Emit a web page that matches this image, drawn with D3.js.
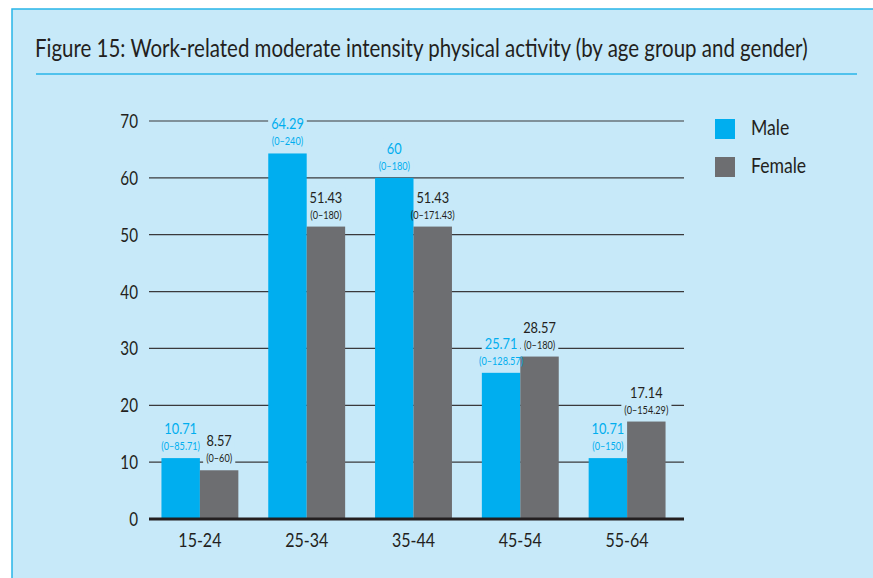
<!DOCTYPE html>
<html>
<head>
<meta charset="utf-8">
<script src="https://cdn.jsdelivr.net/npm/d3@7"></script>
<style>
  body { margin: 0; background: #fff; }
  svg text { font-family: Lato, "Open Sans", sans-serif; fill: #231f20; }
</style>
</head>
<body>
<div id="chart"></div>
<script>
// chart data
var categories = ["15-24", "25-34", "35-44", "45-54", "55-64"];
var maleValues = [10.71, 64.29, 60, 25.71, 10.71];
var femaleValues = [8.57, 51.43, 51.43, 28.57, 17.14];
var maleRanges = ["(0–85.71)", "(0–240)", "(0–180)", "(0–128.57)", "(0–150)"];
var femaleRanges = ["(0–60)", "(0–180)", "(0–171.43)", "(0–180)", "(0–154.29)"];
var yTicks = [0, 10, 20, 30, 40, 50, 60, 70];
var seriesNames = ["Male", "Female"];
var title = "Figure 15: Work-related moderate intensity physical activity (by age group and gender)";

var svgWidth = 873;
var svgHeight = 578;

var bgColor = "#c7e9f9";
var cyan = "#00aeef";
var grey = "#6d6e71";
var squeeze = 0.8;   // the original typeface is narrower than Lato

var svg = d3.select("#chart")
    .append("svg")
    .attr("width", svgWidth)
    .attr("height", svgHeight);

// make Lato look a bit more like the narrow original font:
// move x/y into a transform and squash horizontally around the anchor
function condense(sel, k) {
    sel.each(function() {
        var t = d3.select(this);
        var tx = +t.attr("x") || 0;
        var ty = +t.attr("y") || 0;
        t.attr("x", 0)
            .attr("y", 0)
            .attr("transform", `translate(${tx}, ${ty}) scale(${k}, 1)`);
    });
    return sel;
}

// panel
svg.append("rect")
    .attr("x", 12)
    .attr("y", 9)
    .attr("width", svgWidth)
    .attr("height", svgHeight)
    .attr("fill", bgColor)
    .attr("stroke", "#29b5e8")
    .attr("stroke-width", 1.5);

// title, squeezed horizontally to the width of the original
var titleText = svg.append("text")
    .style("font-size", "25px")
    .text(title);
var titleW = titleText.node().getComputedTextLength();
titleText.attr("transform", `translate(35, 57) scale(${773 / titleW}, 1)`);

svg.append("line")
    .attr("x1", 36)
    .attr("x2", 857)
    .attr("y1", 74)
    .attr("y2", 74)
    .attr("stroke", "#29b5e8")
    .attr("stroke-width", 1.5);

// scales
var x0 = d3.scaleBand()
    .domain(categories)
    .range([146.5, 680.5])
    .paddingInner(0.28)
    .paddingOuter(0.14);

var x1 = d3.scaleBand()
    .domain(seriesNames)
    .range([0, x0.bandwidth()]);

var y = d3.scaleLinear()
    .domain([0, 70])
    .range([519, 121]);

var gridLeft = 149;
var gridRight = 684;

// gridlines + tick labels
var grid = svg.append("g");
grid.selectAll("line")
    .data(yTicks.filter(d => d > 0))
    .enter()
    .append("line")
    .attr("x1", gridLeft)
    .attr("x2", gridRight)
    .attr("y1", d => y(d))
    .attr("y2", d => y(d))
    .attr("stroke", "#3a3a3c")
    .attr("stroke-width", 1.2);

var tickLabels = svg.append("g").selectAll("text")
    .data(yTicks)
    .enter()
    .append("text")
    .attr("x", 138)
    .attr("y", d => y(d) + 7)
    .attr("text-anchor", "end")
    .style("font-size", "19px")
    .text(d => d);
condense(tickLabels, squeeze);

// one entry per bar
var bars = categories.map(function(c, i) {
    return [
        {cat: c, series: "Male", value: maleValues[i], range: maleRanges[i], color: cyan, textColor: cyan},
        {cat: c, series: "Female", value: femaleValues[i], range: femaleRanges[i], color: grey, textColor: "#231f20"}
    ];
}).flat();

// value labels (with a background box that hides the gridline behind them)
var labelBg = svg.append("g");
var barLayer = svg.append("g");
var labelLayer = svg.append("g");

var labels = labelLayer.selectAll("g")
    .data(bars)
    .enter()
    .append("g")
    .attr("transform", d => `translate(${x0(d.cat) + x1(d.series) + x1.bandwidth() / 2}, ${y(d.value)})`);

var mainText = labels.append("text")
    .attr("y", -24)
    .attr("text-anchor", "middle")
    .style("font-size", "16px")
    .style("fill", d => d.textColor)
    .text(d => d.value);
condense(mainText, squeeze);

var subText = labels.append("text")
    .attr("y", -8)
    .attr("text-anchor", "middle")
    .style("font-size", "12px")
    .style("fill", d => d.textColor)
    .text(d => d.range);
condense(subText, 0.76);

labels.each(function(d) {
    var g = d3.select(this);
    var t = g.attr("transform");
    g.selectAll("text").each(function() {
        var b = this.getBBox();
        var k = this === g.select("text").node() ? squeeze : 0.76;
        var ty = +d3.select(this).attr("transform").match(/translate\(([^,]+), ([^)]+)\)/)[2];
        labelBg.append("rect")
            .attr("transform", t)
            .attr("x", b.x * k - 3)
            .attr("y", ty + b.y)
            .attr("width", b.width * k + 6)
            .attr("height", b.height)
            .attr("fill", bgColor);
    });
});

barLayer.selectAll("rect")
    .data(bars)
    .enter()
    .append("rect")
    .attr("x", d => x0(d.cat) + x1(d.series))
    .attr("y", d => y(d.value))
    .attr("width", x1.bandwidth())
    .attr("height", d => y(0) - y(d.value))
    .attr("fill", d => d.color);

// baseline
svg.append("line")
    .attr("x1", gridLeft)
    .attr("x2", gridRight)
    .attr("y1", y(0))
    .attr("y2", y(0))
    .attr("stroke", "#231f20")
    .attr("stroke-width", 3);

// category labels
var catLabels = svg.append("g").selectAll("text")
    .data(categories)
    .enter()
    .append("text")
    .attr("x", d => x0(d) + x0.bandwidth() / 2)
    .attr("y", 547)
    .attr("text-anchor", "middle")
    .style("font-size", "20px")
    .text(d => d);
condense(catLabels, squeeze);

// legend
var legend = svg.append("g").selectAll("g")
    .data(seriesNames)
    .enter()
    .append("g")
    .attr("transform", (d, i) => `translate(715, ${119 + i * 38})`);

legend.append("rect")
    .attr("width", 20)
    .attr("height", 20)
    .attr("fill", (d, i) => i === 0 ? cyan : grey);

var legendText = legend.append("text")
    .attr("x", 36)
    .attr("y", 16)
    .style("font-size", "22px")
    .text(d => d);
condense(legendText, squeeze);
</script>
</body>
</html>
